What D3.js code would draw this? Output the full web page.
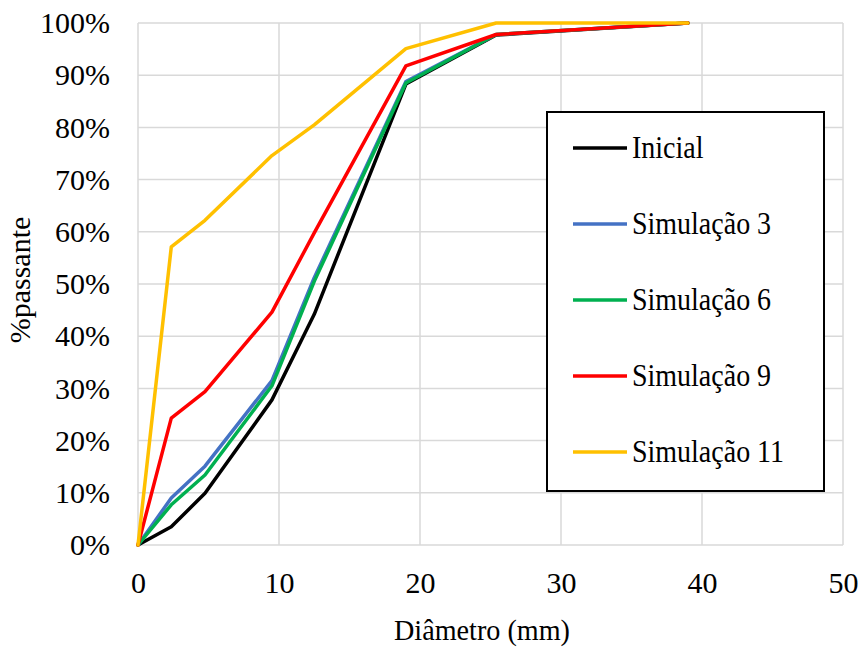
<!DOCTYPE html>
<html>
<head>
<meta charset="utf-8">
<script src="https://cdn.jsdelivr.net/npm/d3@7"></script>
<style>
  html, body { margin: 0; padding: 0; background: #fff; }
  svg { display: block; }
</style>
</head>
<body>
<svg id="chart" width="865" height="649"></svg>
<script>
// Sieve openings (mm) and cumulative passing fractions per scenario
const diametros = [0, 2.36, 4.75, 9.5, 12.5, 19, 25.4, 39];
const inicial     = [0, 0.035, 0.099, 0.278, 0.442, 0.883, 0.977, 1.0];
const simulacao3  = [0, 0.090, 0.151, 0.315, 0.512, 0.888, 0.978, 1.0];
const simulacao6  = [0, 0.077, 0.134, 0.305, 0.505, 0.885, 0.978, 1.0];
const simulacao9  = [0, 0.243, 0.294, 0.446, 0.598, 0.918, 0.978, 1.0];
const simulacao11 = [0, 0.571, 0.622, 0.746, 0.805, 0.951, 1.0, 1.0];

const seriesNames  = ["Inicial", "Simulação 3", "Simulação 6", "Simulação 9", "Simulação 11"];
const seriesValues = [inicial, simulacao3, simulacao6, simulacao9, simulacao11];
const seriesColors = ["#000000", "#4472C4", "#00B050", "#FF0000", "#FFC000"];

const xTicks = [0, 10, 20, 30, 40, 50];
const yTicks = [0, 0.1, 0.2, 0.3, 0.4, 0.5, 0.6, 0.7, 0.8, 0.9, 1.0];

const font = size => `font-family:'Liberation Serif','Times New Roman',serif;font-size:${size}px;fill:#000`;

const svg = d3.select("#chart");
const plot = { left: 138, right: 843, top: 23, bottom: 545 };

const x = d3.scaleLinear().domain([0, 50]).range([plot.left, plot.right]);
const y = d3.scaleLinear().domain([0, 1]).range([plot.bottom, plot.top]);

// Gridlines
const grid = svg.append("g");
grid.selectAll("line.h").data(yTicks).join("line")
  .attr("x1", plot.left).attr("x2", plot.right)
  .attr("y1", d => y(d)).attr("y2", d => y(d))
  .attr("stroke", "#d9d9d9").attr("stroke-width", 1.5);
grid.selectAll("line.v").data(xTicks).join("line")
  .attr("y1", plot.top).attr("y2", plot.bottom)
  .attr("x1", d => x(d)).attr("x2", d => x(d))
  .attr("stroke", "#d9d9d9").attr("stroke-width", 1.5);

// Y axis labels
const yAxis = svg.append("g")
  .attr("transform", `translate(${plot.left},0)`)
  .call(d3.axisLeft(y).tickValues(yTicks).tickFormat(d3.format(".0%")).tickSize(0).tickPadding(28));
yAxis.select(".domain").remove();
yAxis.selectAll("text").attr("style", font(30));

// X axis labels
const xAxis = svg.append("g")
  .attr("transform", `translate(0,${plot.bottom})`)
  .call(d3.axisBottom(x).tickValues(xTicks).tickFormat(d3.format("d")).tickSize(0).tickPadding(27));
xAxis.select(".domain").remove();
xAxis.selectAll("text").attr("style", font(30));

// Axis titles
svg.append("text")
  .attr("x", 482).attr("y", 640)
  .attr("text-anchor", "middle").attr("style", font(30))
  .attr("textLength", 176).attr("lengthAdjust", "spacingAndGlyphs")
  .text("Diâmetro (mm)");
svg.append("text")
  .attr("transform", "translate(30,280) rotate(-90)")
  .attr("text-anchor", "middle").attr("style", font(30))
  .text("%passante");

// Curves
const line = d3.line().x((d, i) => x(diametros[i])).y(d => y(d));
svg.append("g").selectAll("path").data(seriesValues).join("path")
  .attr("d", d => line(d))
  .attr("fill", "none")
  .attr("stroke", (d, i) => seriesColors[i])
  .attr("stroke-width", 3.5)
  .attr("stroke-linejoin", "round")
  .attr("stroke-linecap", "round");

// Legend
const legend = svg.append("g");
legend.append("rect")
  .attr("x", 547).attr("y", 112).attr("width", 277).attr("height", 379)
  .attr("fill", "#fff").attr("stroke", "#000").attr("stroke-width", 2);
const rows = legend.selectAll("g.item").data(seriesNames).join("g")
  .attr("transform", (d, i) => `translate(0,${148 + i * 76})`);
rows.append("line")
  .attr("x1", 573).attr("x2", 627).attr("y1", 0).attr("y2", 0)
  .attr("stroke", (d, i) => seriesColors[i]).attr("stroke-width", 3.5);
rows.append("text")
  .attr("transform", "translate(632,10) scale(1,1.15)")
  .attr("style", font(28))
  .text(d => d);
</script>
</body>
</html>
